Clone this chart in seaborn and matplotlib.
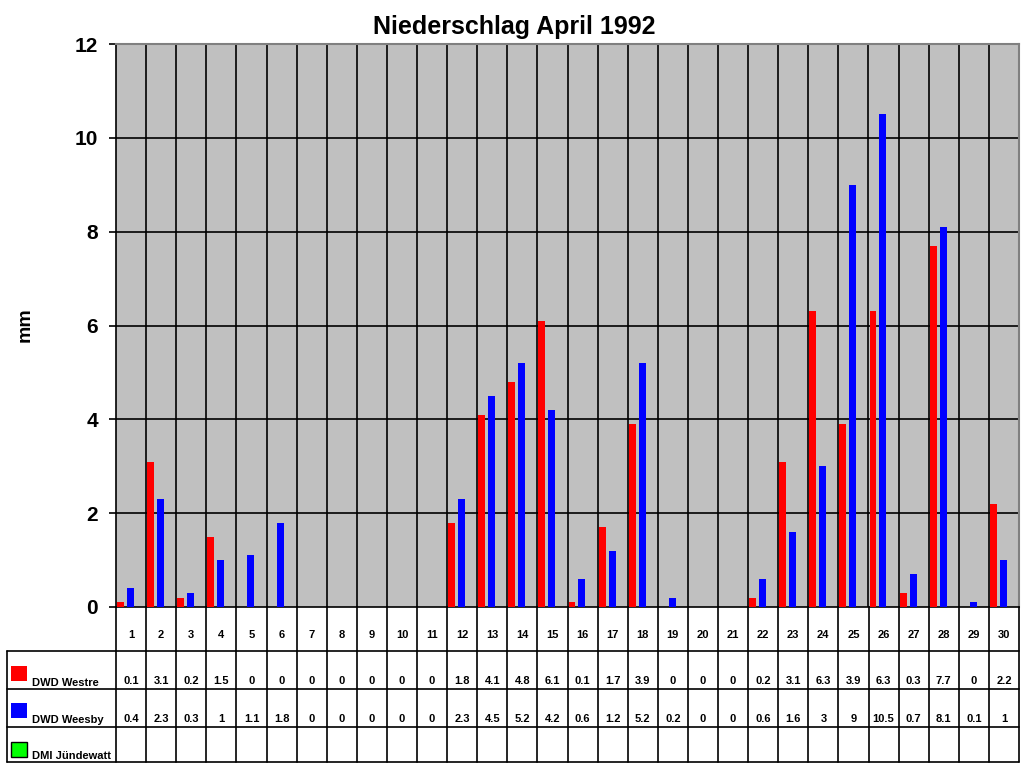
import matplotlib
matplotlib.use("Agg")
import matplotlib.pyplot as plt
from matplotlib.patches import Rectangle
import numpy as np
import pandas as pd
import seaborn as sns

# Tagesniederschlag April 1992 (mm)
days = [str(d) for d in range(1, 31)]
westre = [0.1, 3.1, 0.2, 1.5, 0, 0, 0, 0, 0, 0, 0, 1.8, 4.1, 4.8, 6.1,
          0.1, 1.7, 3.9, 0, 0, 0, 0.2, 3.1, 6.3, 3.9, 6.3, 0.3, 7.7, 0, 2.2]
weesby = [0.4, 2.3, 0.3, 1, 1.1, 1.8, 0, 0, 0, 0, 0, 2.3, 4.5, 5.2, 4.2,
          0.6, 1.2, 5.2, 0.2, 0, 0, 0.6, 1.6, 3, 9, 10.5, 0.7, 8.1, 0.1, 1]
stations = ["DWD Westre", "DWD Weesby", "DMI Jündewatt"]
station_colors = ["#ff0000", "#0000ff", "#00ff00"]

df = pd.DataFrame({
    "Tag": days * 2,
    "mm": westre + weesby,
    "Station": [stations[0]] * 30 + [stations[1]] * 30,
})

sns.set_style("ticks")
plt.rcParams["font.family"] = ["Liberation Sans", "DejaVu Sans"]
plt.rcParams["font.weight"] = "bold"
plt.rcParams["text.color"] = "black"
plt.rcParams["ytick.color"] = "black"
plt.rcParams["ytick.labelcolor"] = "black"

W, H = 1024, 768
fig = plt.figure(figsize=(W / 100, H / 100), dpi=100)

left, right, top, bottom = 116, 1019, 44, 607
ax = fig.add_axes([left / W, 1 - bottom / H, (right - left) / W, (bottom - top) / H])
ax.set_facecolor("#c0c0c0")

sns.barplot(data=df, x="Tag", y="mm", hue="Station", order=days,
            hue_order=stations[:2], palette=station_colors[:2], saturation=1,
            width=0.66, gap=0.3, linewidth=0, legend=False, ax=ax, zorder=3)

off = 0.315
ax.set_xlim(-off, 30 - off)
ax.set_ylim(0, 12)
for k in range(1, 30):
    ax.axvline(k - off, color="black", lw=1.2, zorder=1)
for y in range(2, 12, 2):
    ax.axhline(y, color="black", lw=1.2, zorder=1)

ax.set_xticks([])
ax.set_xlabel("")
ax.set_ylabel("")
ax.set_yticks(range(0, 13, 2))
ax.set_yticklabels([str(v) for v in range(0, 13, 2)], fontsize=15, fontweight="bold",
                   color="black")
ax.tick_params(axis="y", direction="out", length=5, width=1.2, pad=8, color="black")
for s in ["top", "right"]:
    ax.spines[s].set_color("#808080")
    ax.spines[s].set_linewidth(1.5)
for s in ["left", "bottom"]:
    ax.spines[s].set_color("black")
    ax.spines[s].set_linewidth(1.2)

fig.text(514 / W, 1 - 27 / H, "Niederschlag April 1992", ha="center", va="center",
         fontsize=18, fontweight="bold", color="black")
fig.text(25 / W, 1 - 325 / H, "mm", ha="center", va="center", rotation=90,
         fontsize=14, fontweight="bold", color="black")

# Datentabelle unter dem Diagramm
tab = fig.add_axes([0, 0, 1, 1])
tab.set_xlim(0, W)
tab.set_ylim(H, 0)
tab.axis("off")
tab.patch.set_alpha(0)

col_w = (right - left) / 30
row_lines = [651, 689, 727, 762]
for k in range(31):
    x = left + k * col_w
    tab.plot([x, x], [bottom, row_lines[-1]], color="black", lw=1.2)
tab.plot([7, 7], [row_lines[0], row_lines[-1]], color="black", lw=1.2)
for y in row_lines:
    tab.plot([7, right], [y, y], color="black", lw=1.2)

for k, d in enumerate(days):
    xc = left + (k + 0.5) * col_w
    tab.text(xc, 635, d, ha="center", va="center", fontsize=8, fontweight="bold")
    tab.text(xc, 681, f"{westre[k]:g}", ha="center", va="center", fontsize=8,
             fontweight="bold")
    tab.text(xc, 719, f"{weesby[k]:g}", ha="center", va="center", fontsize=8,
             fontweight="bold")

swatch_y = [666, 703, 742]
label_y = [686, 723, 759]
for i, name in enumerate(stations):
    edge = "black" if i == 2 else "none"
    tab.add_patch(Rectangle((11, swatch_y[i]), 16, 15, facecolor=station_colors[i],
                            edgecolor=edge, lw=1))
    tab.text(32, label_y[i], name, ha="left", va="baseline", fontsize=8,
             fontweight="bold")

fig.savefig("out.png", dpi=100)
